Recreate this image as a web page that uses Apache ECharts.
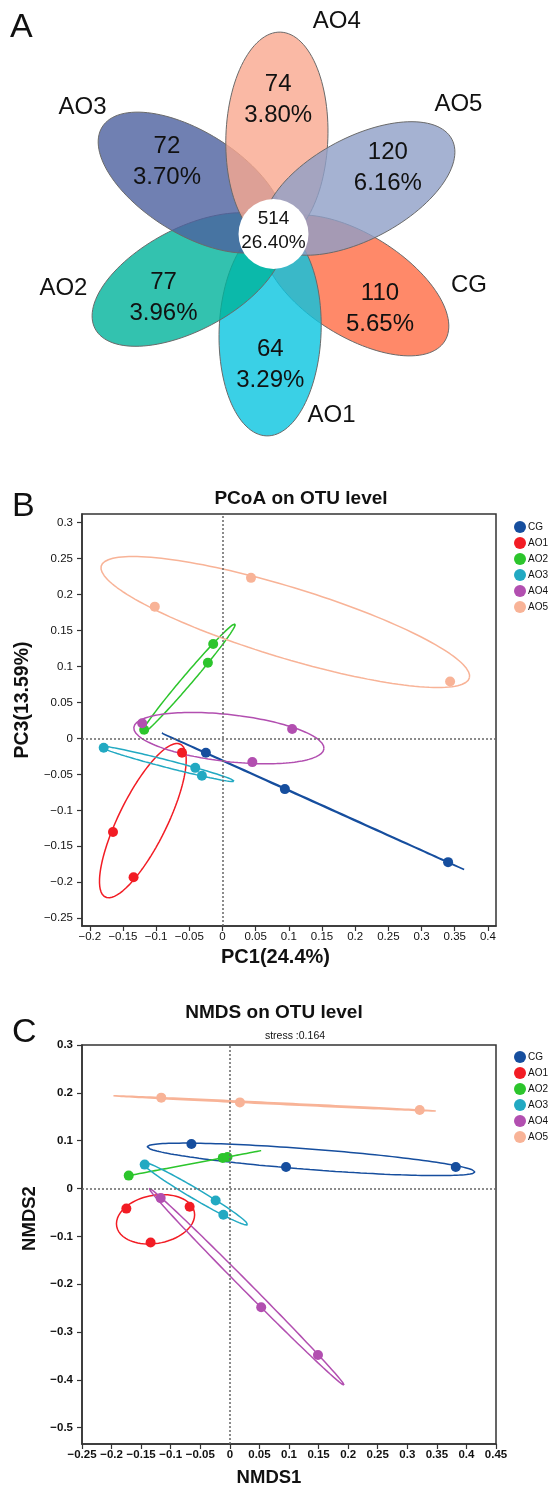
<!DOCTYPE html>
<html>
<head>
<meta charset="utf-8">
<script src="https://cdn.jsdelivr.net/npm/echarts@6/dist/echarts.min.js"></script>
<style>
html,body{margin:0;padding:0;background:#fff;}
#main{width:550px;height:1492px;}
</style>
</head>
<body>
<div id="main"></div>
<script>
// ---------- A：花瓣图数据 ----------
var vennNames = ['CG', 'AO1', 'AO2', 'AO3', 'AO4', 'AO5'];
var vennCounts = [110, 64, 77, 72, 74, 120];
var vennPercents = ['5.65%', '3.29%', '3.96%', '3.70%', '3.80%', '6.16%'];
var coreCount = 514;
var corePercent = '26.40%';

// ---------- B：PCoA 各组样本坐标 [PC1, PC3] ----------
var groups = ['CG', 'AO1', 'AO2', 'AO3', 'AO4', 'AO5'];
var pcoaCG  = [[-0.025, -0.020], [0.094, -0.0705], [0.340, -0.172]];
var pcoaAO1 = [[-0.061, -0.020], [-0.165, -0.130], [-0.134, -0.193]];
var pcoaAO2 = [[-0.118, 0.012], [-0.022, 0.105], [-0.014, 0.131]];
var pcoaAO3 = [[-0.179, -0.013], [-0.041, -0.041], [-0.031, -0.052]];
var pcoaAO4 = [[-0.121, 0.021], [0.105, 0.013], [0.045, -0.033]];
var pcoaAO5 = [[-0.102, 0.183], [0.043, 0.223], [0.343, 0.079]];
var pcoaXTicks = [-0.2, -0.15, -0.1, -0.05, 0, 0.05, 0.1, 0.15, 0.2, 0.25, 0.3, 0.35, 0.4];
var pcoaYTicks = [-0.25, -0.2, -0.15, -0.1, -0.05, 0, 0.05, 0.1, 0.15, 0.2, 0.25, 0.3];

// ---------- C：NMDS 各组样本坐标 [NMDS1, NMDS2] ----------
var nmdsCG  = [[-0.065, 0.093], [0.095, 0.045], [0.382, 0.045]];
var nmdsAO1 = [[-0.175, -0.042], [-0.068, -0.038], [-0.134, -0.113]];
var nmdsAO2 = [[-0.171, 0.027], [-0.012, 0.064], [-0.004, 0.066]];
var nmdsAO3 = [[-0.144, 0.050], [-0.024, -0.025], [-0.011, -0.055]];
var nmdsAO4 = [[-0.117, -0.020], [0.053, -0.248], [0.149, -0.348]];
var nmdsAO5 = [[-0.116, 0.190], [0.017, 0.180], [0.321, 0.164]];
var nmdsXTicks = [-0.25, -0.2, -0.15, -0.1, -0.05, 0, 0.05, 0.1, 0.15, 0.2, 0.25, 0.3, 0.35, 0.4, 0.45];
var nmdsYTicks = [-0.5, -0.4, -0.3, -0.2, -0.1, 0, 0.1, 0.2, 0.3];
var stressText = 'stress :0.164';

var pcoaData = {CG: pcoaCG, AO1: pcoaAO1, AO2: pcoaAO2, AO3: pcoaAO3, AO4: pcoaAO4, AO5: pcoaAO5};
var nmdsData = {CG: nmdsCG, AO1: nmdsAO1, AO2: nmdsAO2, AO3: nmdsAO3, AO4: nmdsAO4, AO5: nmdsAO5};

// ---------- 样式 ----------
var FONT = '"Liberation Sans", Arial, sans-serif';
var groupColors = {CG: '#164E9E', AO1: '#F21C24', AO2: '#2CC52C', AO3: '#22A9C2', AO4: '#B24FB0', AO5: '#F8B397'};
var petalColors = ['rgba(255,108,68,0.8)', 'rgba(9,196,224,0.8)', 'rgba(0,179,155,0.8)',
                   'rgba(76,96,159,0.8)', 'rgba(249,168,143,0.8)', 'rgba(143,159,199,0.8)'];
var PETAL_START = -32;   // CG 花瓣角度，其余每个顺时针 -60
var PETAL_A = 105, PETAL_B = 51, PETAL_D = 97, CORE_R = 35;
// 花瓣内文字 / 组名 的位置 [角度, 距中心距离]
var vennTextAt = [[-35, 130], [-91.4, 131], [210, 127], [146, 128.5], [88, 134], [30, 132]];
var vennLabelAt = [[-14.6, 202], [-72.2, 190], [194.5, 217], [146.5, 229], [73.4, 221.5], [35.1, 226]];
// 置信椭圆的缩放系数（按图估计）
var ELLIPSE_K = 1.224;

function rad(d) { return d * Math.PI / 180; }
function tickFmt(v) { return (v < 0 ? '\u2212' : '') + Math.abs(v); }

// 花瓣
function renderPetal(params, api) {
    var i = api.value(0);
    var ang = rad(PETAL_START - 60 * i);
    var ca = Math.cos(ang), sa = Math.sin(ang);
    var pts = [];
    for (var k = 0; k < 120; k++) {
        var t = k / 120 * 2 * Math.PI;
        var lx = PETAL_A * Math.cos(t), ly = PETAL_B * Math.sin(t);
        pts.push(api.coord([PETAL_D * ca + lx * ca - ly * sa, PETAL_D * sa + lx * sa + ly * ca]));
    }
    return {type: 'polygon', shape: {points: pts},
        style: {fill: petalColors[i], stroke: '#6a6a6a', lineWidth: 1}};
}

function vtext(x, y, text, size) {
    return {type: 'text', x: x, y: y,
        style: {text: text, font: size + 'px ' + FONT, fill: '#111', align: 'center', verticalAlign: 'middle'}};
}

// 花瓣上的数字与组名
function renderPetalText(params, api) {
    var i = api.value(0);
    var ta = rad(vennTextAt[i][0]), td = vennTextAt[i][1];
    var p = api.coord([td * Math.cos(ta), td * Math.sin(ta)]);
    var la = rad(vennLabelAt[i][0]), ld = vennLabelAt[i][1];
    var q = api.coord([ld * Math.cos(la), ld * Math.sin(la)]);
    return {type: 'group', children: [
        vtext(p[0], p[1] - 15.5, String(api.value(1)), 24),
        vtext(p[0], p[1] + 15.5, vennPercents[i], 24),
        vtext(q[0], q[1], vennNames[i], 24)
    ]};
}

// 中心白圆
function renderCore(params, api) {
    var c = api.coord([0, 0]);
    var r = api.size([CORE_R, 0])[0];
    return {type: 'group', children: [
        {type: 'circle', shape: {cx: c[0], cy: c[1], r: r}, style: {fill: '#fff'}},
        vtext(c[0], c[1] - 15, String(api.value(2)), 19),
        vtext(c[0], c[1] + 9, corePercent, 19)
    ]};
}

// 由样本点求协方差椭圆
function ellipsePath(pts) {
    var n = pts.length, mx = 0, my = 0;
    pts.forEach(function (p) { mx += p[0]; my += p[1]; });
    mx /= n; my /= n;
    var sxx = 0, syy = 0, sxy = 0;
    pts.forEach(function (p) {
        var dx = p[0] - mx, dy = p[1] - my;
        sxx += dx * dx; syy += dy * dy; sxy += dx * dy;
    });
    sxx /= n - 1; syy /= n - 1; sxy /= n - 1;
    var tr = sxx + syy, det = sxx * syy - sxy * sxy;
    var disc = Math.sqrt(Math.max(tr * tr / 4 - det, 0));
    var l1 = tr / 2 + disc, l2 = Math.max(tr / 2 - disc, 0);
    var th = 0.5 * Math.atan2(2 * sxy, sxx - syy);
    var out = [];
    for (var k = 0; k <= 160; k++) {
        var t = k / 160 * 2 * Math.PI;
        var u = ELLIPSE_K * Math.sqrt(l1) * Math.cos(t), v = ELLIPSE_K * Math.sqrt(l2) * Math.sin(t);
        out.push([mx + u * Math.cos(th) - v * Math.sin(th), my + u * Math.sin(th) + v * Math.cos(th)]);
    }
    return out;
}

var zeroLines = {
    silent: true, symbol: 'none', label: {show: false},
    lineStyle: {type: [2, 2], color: '#666', width: 1.5},
    data: [{xAxis: 0}, {yAxis: 0}]
};

function panelSeries(dataMap, axisIdx) {
    var list = [];
    groups.forEach(function (g, i) {
        var s = {
            name: g, type: 'scatter', xAxisIndex: axisIdx, yAxisIndex: axisIdx,
            data: dataMap[g], symbolSize: 10, z: 4,
            itemStyle: {color: groupColors[g], opacity: 1}
        };
        if (i == 0) s.markLine = zeroLines;
        list.push(s);
    });
    groups.forEach(function (g) {
        list.push({
            name: g, type: 'line', xAxisIndex: axisIdx, yAxisIndex: axisIdx,
            data: ellipsePath(dataMap[g]), showSymbol: false, symbol: 'none', z: 3, silent: true,
            lineStyle: {color: groupColors[g], width: 1.5}, itemStyle: {color: groupColors[g]}
        });
    });
    return list;
}

function valueAxis(opt) {
    return {
        gridIndex: opt.grid, type: 'value', min: opt.min, max: opt.max,
        axisLine: {show: true, onZero: false, lineStyle: {color: '#333', width: 1.5}},
        axisTick: {show: true, length: 5, inside: false, customValues: opt.ticks, lineStyle: {color: '#333', width: 1.2}},
        axisLabel: {customValues: opt.ticks, formatter: tickFmt, fontSize: 11.5, fontWeight: opt.bold ? 'bold' : 'normal',
            color: '#111', margin: opt.margin, fontFamily: FONT},
        splitLine: {show: false},
        name: opt.name, nameLocation: 'middle', nameGap: opt.nameGap,
        nameTextStyle: {fontSize: opt.nameSize, fontWeight: 'bold', color: '#111', fontFamily: FONT, padding: opt.namePad}
    };
}

var myChart = echarts.init(document.getElementById('main'));

var series = [
    {type: 'custom', xAxisIndex: 0, yAxisIndex: 0, silent: true, z: 1,
        data: vennCounts.map(function (c, i) { return [i, c]; }), renderItem: renderPetal},
    {type: 'custom', xAxisIndex: 0, yAxisIndex: 0, silent: true, z: 2,
        data: [[0, 0, coreCount]], renderItem: renderCore},
    {type: 'custom', xAxisIndex: 0, yAxisIndex: 0, silent: true, z: 3,
        data: vennCounts.map(function (c, i) { return [i, c]; }), renderItem: renderPetalText}
].concat(panelSeries(pcoaData, 1), panelSeries(nmdsData, 2));

var legendBase = {
    orient: 'vertical', icon: 'circle', itemWidth: 12, itemHeight: 12, itemGap: 4,
    left: 509, data: groups, selectedMode: false,
    textStyle: {fontSize: 10, color: '#111', fontFamily: FONT, padding: [0, 0, 0, -3]}
};

var option = {
    animation: false,
    backgroundColor: '#fff',
    textStyle: {fontFamily: FONT},
    grid: [
        {left: 10, top: 10, width: 500, height: 460, show: false},
        {left: 82, top: 514, width: 414, height: 412, show: true, borderColor: '#333', borderWidth: 1.5, backgroundColor: 'transparent'},
        {left: 82, top: 1045, width: 414, height: 399, show: true, borderColor: '#333', borderWidth: 1.5, backgroundColor: 'transparent'}
    ],
    xAxis: [
        // 花瓣图用的隐藏坐标系，中心在 (273.5, 234)
        {gridIndex: 0, type: 'value', min: -263.5, max: 236.5, show: false},
        valueAxis({grid: 1, min: -0.2117, max: 0.4122, ticks: pcoaXTicks, margin: 5, name: 'PC1(24.4%)',
            nameGap: 21, nameSize: 20, namePad: [0, 27, 0, 0]}),
        valueAxis({grid: 2, min: -0.25, max: 0.45, ticks: nmdsXTicks, margin: 5, bold: true, name: 'NMDS1',
            nameGap: 24, nameSize: 18.5, namePad: [0, 40, 0, 0]})
    ],
    yAxis: [
        {gridIndex: 0, type: 'value', min: -236, max: 224, show: false},
        valueAxis({grid: 1, min: -0.2607, max: 0.3117, ticks: pcoaYTicks, margin: 9, name: 'PC3(13.59%)',
            nameGap: 27, nameSize: 19.5, namePad: [0, 0, 0, 40]}),
        valueAxis({grid: 2, min: -0.534, max: 0.3, ticks: nmdsYTicks, margin: 9, bold: true, name: 'NMDS2',
            nameGap: 32, nameSize: 18.5, namePad: [0, 0, 0, 52]})
    ],
    legend: [
        Object.assign({}, legendBase, {top: 516}),
        Object.assign({}, legendBase, {top: 1046})
    ],
    graphic: [
        {type: 'text', x: 10, y: 28, style: {text: 'A', font: '34px ' + FONT, fill: '#111', verticalAlign: 'middle'}},
        {type: 'text', x: 12, y: 507, style: {text: 'B', font: '34px ' + FONT, fill: '#111', verticalAlign: 'middle'}},
        {type: 'text', x: 12, y: 1033, style: {text: 'C', font: '34px ' + FONT, fill: '#111', verticalAlign: 'middle'}},
        {type: 'text', x: 301, y: 499, style: {text: 'PCoA on OTU level', font: 'bold 19px ' + FONT, fill: '#111', align: 'center', verticalAlign: 'middle'}},
        {type: 'text', x: 274, y: 1013, style: {text: 'NMDS on OTU level', font: 'bold 19px ' + FONT, fill: '#111', align: 'center', verticalAlign: 'middle'}},
        {type: 'text', x: 295, y: 1036, style: {text: stressText, font: '10.5px ' + FONT, fill: '#111', align: 'center', verticalAlign: 'middle'}}
    ],
    series: series
};

myChart.setOption(option);
</script>
</body>
</html>
